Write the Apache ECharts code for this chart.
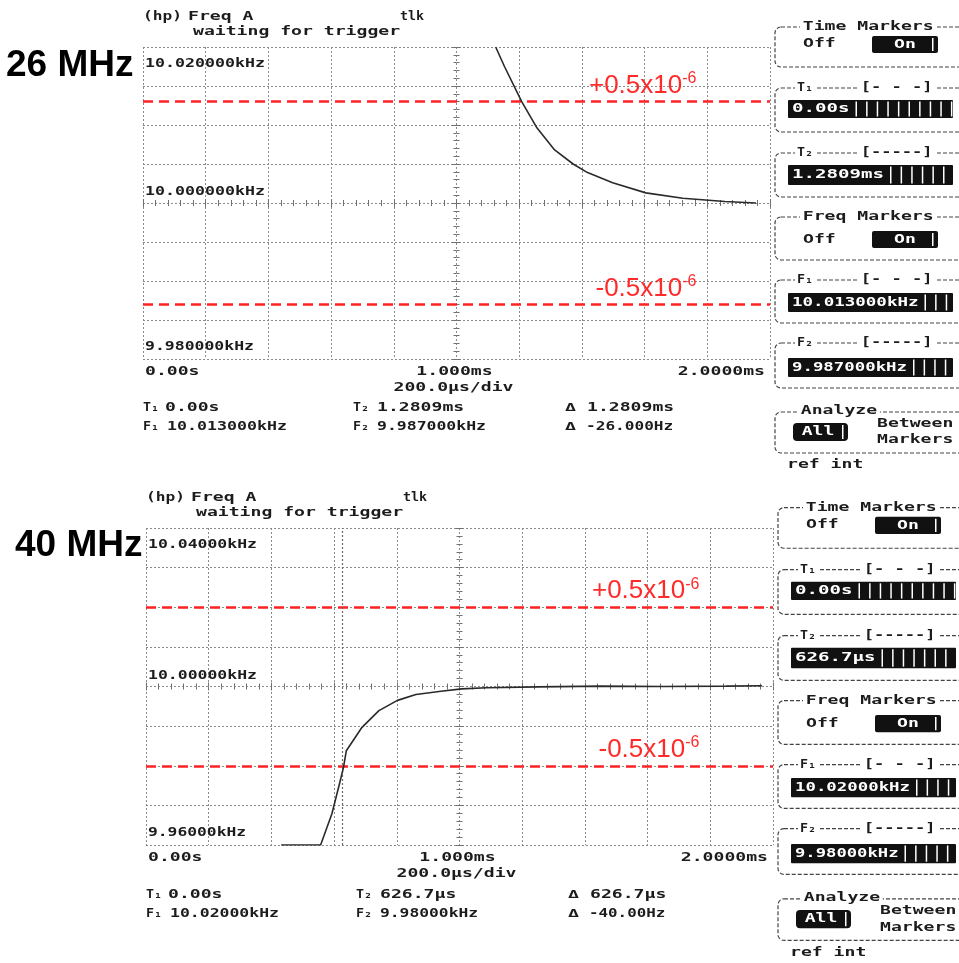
<!DOCTYPE html>
<html><head><meta charset="utf-8">
<script src="https://cdn.jsdelivr.net/npm/echarts@6/dist/echarts.min.js"></script>
<style>html,body{margin:0;padding:0;background:#fff}#c{width:959px;height:963px}</style>
</head><body><div id="c"></div><script>
// ---------------- data ----------------
const panelTitles = ['26 MHz', '40 MHz'];
// time in ms, frequency in kHz
const time26 = [1.125, 1.153, 1.208, 1.257, 1.313, 1.372, 1.418, 1.498, 1.604, 1.722, 1.856, 1.955];
const freq26 = [10.0200, 10.0175, 10.0130, 10.0096, 10.0068, 10.0050, 10.0039, 10.0026, 10.0013, 10.0006, 10.0002, 10.0000];
const time40 = [0.431, 0.557, 0.593, 0.617, 0.630, 0.639, 0.689, 0.743, 0.802, 0.861, 0.941, 1.007, 1.086, 1.250, 1.450, 1.650, 1.850, 1.965];
const freq40 = [9.9600, 9.9600, 9.9679, 9.9754, 9.9796, 9.9838, 9.9897, 9.9939, 9.9965, 9.9980, 9.9988, 9.9994, 9.9997, 9.9999, 10.0001, 10.0000, 10.0001, 10.0002];
const yRange26 = [9.98, 10.02, 0.005];
const yRange40 = [9.96, 10.04, 0.01];
const yTickVals26 = [10.02, 10.00, 9.98];
const yTickText26 = ['10.020000kHz', '10.000000kHz', '9.980000kHz'];
const yTickVals40 = [10.04, 10.00, 9.96];
const yTickText40 = ['10.04000kHz', '10.00000kHz', '9.96000kHz'];
const xTickVals = [0, 1, 2];
const xTickText = ['0.00s', '1.000ms', '2.0000ms'];
const xScaleText = '200.0µs/div';
const limits26 = [10.013, 9.987];
const limits40 = [10.020, 9.980];
const limitText = ['+0.5x10', '-0.5x10'];
const limitExp = '-6';
const markerT40 = [0.6267];
const readout26 = ['0.00s', '10.013000kHz', '1.2809ms', '9.987000kHz', '1.2809ms', '-26.000Hz'];
const readout40 = ['0.00s', '10.02000kHz', '626.7µs', '9.98000kHz', '626.7µs', '-40.00Hz'];
const field26 = ['0.00s', '1.2809ms', '10.013000kHz', '9.987000kHz'];
const field40 = ['0.00s', '626.7µs', '10.02000kHz', '9.98000kHz'];

// ---------------- layout ----------------
const GRIDS = [[143, 47, 627, 312], [146, 528, 627, 317]];
const PAN = [{dx: 0, y0: 0, sy: 1}, {dx: 3, y0: 480.2, sy: 1.016}];
const times = [time26, time40], freqs = [freq26, freq40];
const yRanges = [yRange26, yRange40];
const yTV = [yTickVals26, yTickVals40], yTT = [yTickText26, yTickText40];
const limits = [limits26, limits40];
const readouts = [readout26, readout40], fields = [field26, field40];
const markers = [[], markerT40];

const gridLine = {color: '#8a8a8a', type: [2, 2], width: 1};
const tickLine = {color: '#707070', width: 1};

const chart = echarts.init(document.getElementById('c'));
const option = {animation: false, backgroundColor: '#fff', grid: [], xAxis: [], yAxis: [], series: []};

GRIDS.forEach((r, p) => {
  const [L, T, W, H] = r;
  option.grid.push({left: L, top: T, width: W, height: H, show: false});
  const yr = yRanges[p];
  const baseX = {gridIndex: p, type: 'value', min: 0, max: 2, interval: 0.2, axisLabel: {show: false}};
  option.xAxis.push(Object.assign({}, baseX, {position: 'bottom', axisLine: {show: false, onZero: false}, axisTick: {show: false},
    splitLine: {show: true, lineStyle: gridLine}}));
  [true, false].forEach(inside => option.xAxis.push(Object.assign({}, baseX, {position: 'bottom', offset: -H / 2,
    axisLine: {show: false, onZero: false}, splitLine: {show: false},
    axisTick: {show: true, inside: inside, length: 4, lineStyle: tickLine},
    minorTick: {show: true, splitNumber: 5, length: 3, lineStyle: tickLine}})));
  const baseY = {gridIndex: p, type: 'value', min: yr[0], max: yr[1], interval: yr[2], axisLabel: {show: false}};
  option.yAxis.push(Object.assign({}, baseY, {position: 'left', axisLine: {show: false, onZero: false}, axisTick: {show: false},
    splitLine: {show: true, lineStyle: gridLine}}));
  [true, false].forEach(inside => option.yAxis.push(Object.assign({}, baseY, {position: 'left', offset: -W / 2,
    axisLine: {show: false, onZero: false}, splitLine: {show: false},
    axisTick: {show: true, inside: inside, length: 4, lineStyle: tickLine},
    minorTick: {show: true, splitNumber: 5, length: 3, lineStyle: tickLine}})));
  const ml = limits[p].map(v => ({yAxis: v}));
  markers[p].forEach(t => ml.push({xAxis: t, lineStyle: {color: '#6a6a6a', type: [2, 2], width: 1.2}}));
  option.series.push({
    type: 'line', xAxisIndex: 3 * p, yAxisIndex: 3 * p, showSymbol: false, symbol: 'none', clip: true, z: 5,
    data: times[p].map((t, i) => [t, freqs[p][i]]),
    lineStyle: {color: '#2a2a2a', width: 1.6},
    markLine: {silent: true, precision: 5, symbol: ['none', 'none'], label: {show: false}, animation: false,
      lineStyle: {color: '#ff2222', type: [10, 6], width: 2.5}, data: ml}
  });
});
chart.setOption(option);

// ---------------- text & panels ----------------
const MONO = '"DejaVu Sans Mono","Liberation Mono",monospace';
const CELL = 10.9;
function cells(s) { return s.length - (s.indexOf('Hz') >= 0 ? 1 : 0); }
function st(text, x, y, o) {
  o = o || {};
  const size = o.size || 13;
  const natural = text.length * 0.602 * size;
  const target = o.w || cells(text) * (o.cell || CELL);
  const al = o.align || 'left';
  const style = {text: text, font: 'bold ' + size + 'px ' + MONO, fill: o.fill || '#1c1c1c',
    textAlign: al, align: al, textVerticalAlign: 'middle', verticalAlign: 'middle'};
  if (o.bg) { style.backgroundColor = o.bg; style.padding = [0, 2, 0, 2]; }
  return {type: 'text', x: x, y: y, scaleX: target / natural, z: o.z || 20, silent: true, style: style};
}
function rect(x, y, w, h, style, r, z) {
  return {type: 'rect', shape: {x: x, y: y, width: w, height: h, r: r || 0}, style: style, z: z || 15, silent: true};
}
const G = [];
GRIDS.forEach((gr, p) => {
  const pn = PAN[p];
  const X = x => x + pn.dx, Y = y => pn.y0 + y * pn.sy, HH = h => h * pn.sy;
  const fx = {xAxisIndex: 3 * p, yAxisIndex: 3 * p};
  const px = (x, y) => chart.convertToPixel(fx, [x, y]);
  // big title
  G.push({type: 'text', x: p ? 15 : 6, y: p ? 546 : 66, z: 20, silent: true,
    style: {text: panelTitles[p], font: 'bold 37px "Liberation Sans", Arial, sans-serif', fill: '#000',
      textVerticalAlign: 'middle', verticalAlign: 'middle'}});
  // header
  G.push(st('(hp)', X(143), Y(17), {w: 39}));
  G.push(st('Freq A', X(188), Y(17)));
  G.push(st('tlk', X(400), Y(17), {w: 24}));
  G.push(st('waiting for trigger', X(193), Y(32)));
  // y tick labels
  const yr = yRanges[p];
  yTV[p].forEach((v, i) => {
    const pt = px(0, v);
    let yy;
    if (v === yr[1]) yy = pt[1] + 17;
    else if (v === yr[0]) yy = pt[1] - 12;
    else yy = pt[1] - 11;
    G.push(st(yTT[p][i], pt[0] + 2, yy));
  });
  // x tick labels
  xTickVals.forEach((v, i) => {
    const pt = px(v, yr[0]);
    const al = i === 0 ? 'left' : (i === xTickVals.length - 1 ? 'right' : 'center');
    const xx = i === 0 ? pt[0] + 2 : (al === 'right' ? pt[0] - 5 : pt[0] - 2);
    G.push(st(xTickText[i], xx, pt[1] + 13, {align: al}));
  });
  const mid = px(1, yr[0]);
  G.push(st(xScaleText, mid[0] - 3, mid[1] + 29, {align: 'center'}));
  // limit labels
  limits[p].forEach((v, i) => {
    const pt = px(1.72, v);
    G.push({type: 'text', x: pt[0], y: pt[1] - 16, z: 21, silent: true,
      style: {text: limitText[i], font: '26px "Liberation Sans", Arial, sans-serif', fill: '#ff2a2a',
        textAlign: 'right', align: 'right', textVerticalAlign: 'middle', verticalAlign: 'middle'}});
    G.push({type: 'text', x: pt[0], y: pt[1] - 23, z: 21, silent: true,
      style: {text: limitExp, font: '16px "Liberation Sans", Arial, sans-serif', fill: '#ff2a2a',
        textAlign: 'left', align: 'left', textVerticalAlign: 'middle', verticalAlign: 'middle'}});
  });
  // readouts
  const ro = readouts[p];
  G.push(st('T₁', X(143), Y(408), {w: 16}));
  G.push(st(ro[0], X(165), Y(408)));
  G.push(st('F₁', X(143), Y(427), {w: 16}));
  G.push(st(ro[1], X(167), Y(427)));
  G.push(st('T₂', X(353), Y(408), {w: 16}));
  G.push(st(ro[2], X(377), Y(408)));
  G.push(st('F₂', X(353), Y(427), {w: 16}));
  G.push(st(ro[3], X(377), Y(427)));
  G.push(st('Δ', X(565), Y(408), {w: 11, size: 11}));
  G.push(st(ro[4], X(587), Y(408)));
  G.push(st('Δ', X(565), Y(427), {w: 11, size: 11}));
  G.push(st(ro[5], X(586), Y(427)));
  // right-side soft-key boxes
  const boxes = [[27, 67], [88, 132], [153, 197], [217, 260], [280, 323], [343, 388], [412, 453]];
  boxes.forEach(b => G.push(rect(X(775), Y(b[0]), 220, HH(b[1] - b[0]),
    {fill: 'none', stroke: '#444', lineWidth: 1.2, lineDash: [4, 2]}, [6, 0, 0, 6], 12)));
  G.push(st('Time Markers', X(800), Y(27), {bg: '#fff'}));
  G.push(st('Freq Markers', X(800), Y(217), {bg: '#fff'}));
  [[44, 36, 53], [240, 231, 248]].forEach(o => {
    G.push(st('Off', X(803), Y(o[0])));
    G.push(rect(X(872), Y(o[1]), 66, HH(o[2] - o[1]), {fill: '#111'}, 2));
    G.push(st('On', X(905), Y((o[1] + o[2]) / 2), {align: 'center', fill: '#fff'}));
    G.push(rect(X(932), Y(o[1] + 2), 1.5, HH(o[2] - o[1] - 4), {fill: '#fff'}, 0, 16));
  });
  const fieldBoxes = [[88, 100, 118, 'T₁', '[- - -]'], [153, 165, 185, 'T₂', '[-----]'],
                      [280, 293, 312, 'F₁', '[- - -]'], [343, 358, 377, 'F₂', '[-----]']];
  fieldBoxes.forEach((f, i) => {
    G.push(st(f[3], X(795), Y(f[0]), {w: 16, bg: '#fff'}));
    G.push(st(f[4], X(858), Y(f[0]), {w: 72, bg: '#fff'}));
    G.push(rect(X(788), Y(f[1]), 165, HH(f[2] - f[1]), {fill: '#111'}, 1));
    const txt = fields[p][i];
    const w = cells(txt) * 11.5;
    G.push(st(txt, X(792), Y((f[1] + f[2]) / 2), {fill: '#fff', w: w}));
    for (let sx = 792 + w + 6; sx < 951; sx += 10.6) {
      G.push(rect(X(sx), Y(f[1] + 1.5), 1.5, HH(f[2] - f[1] - 3), {fill: '#fff'}, 0, 16));
    }
  });
  G.push(st('Analyze', X(798), Y(411), {bg: '#fff'}));
  G.push(rect(X(793), Y(423), 55, HH(18), {fill: '#111'}, 4));
  G.push(st('All', X(818), Y(432), {align: 'center', fill: '#fff'}));
  G.push(rect(X(842), Y(425), 1.5, HH(14), {fill: '#fff'}, 0, 16));
  G.push(st('Between', X(877), Y(424)));
  G.push(st('Markers', X(877), Y(440)));
  G.push(st('ref int', X(787), Y(465)));
});
chart.setOption({graphic: {elements: G}});
</script></body></html>
